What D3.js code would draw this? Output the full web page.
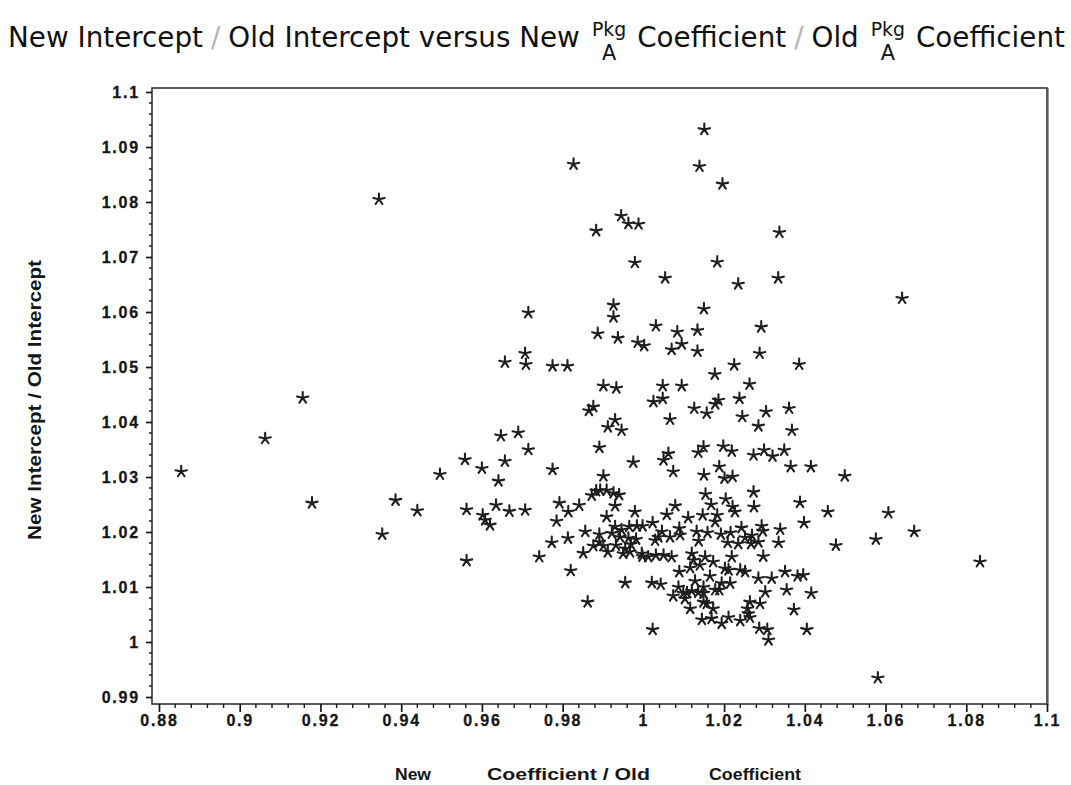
<!DOCTYPE html>
<html>
<head>
<meta charset="utf-8">
<script src="https://cdn.jsdelivr.net/npm/d3@7"></script>
<style>
  html, body { margin: 0; padding: 0; background: #fff; }
  svg { display: block; }
</style>
</head>
<body>
<svg id="chart" width="1071" height="785"></svg>
<script>
// ---------- data ----------
const xTickValues = [0.88, 0.90, 0.92, 0.94, 0.96, 0.98, 1.00, 1.02, 1.04, 1.06, 1.08, 1.10];
const xTickLabels = ["0.88", "0.9", "0.92", "0.94", "0.96", "0.98", "1", "1.02", "1.04", "1.06", "1.08", "1.1"];
const yTickValues = [0.99, 1.00, 1.01, 1.02, 1.03, 1.04, 1.05, 1.06, 1.07, 1.08, 1.09, 1.10];
const yTickLabels = ["0.99", "1", "1.01", "1.02", "1.03", "1.04", "1.05", "1.06", "1.07", "1.08", "1.09", "1.1"];

// New Pkg A Coefficient / Old Pkg A Coefficient
const coefRatio = [
0.9827,0.9345,0.9945,0.9883,0.9715,0.9926,0.9926,0.9887,0.9937,0.9707,
0.9709,0.9657,0.9775,0.9812,0.9901,0.9933,0.9156,1.0151,1.0139,1.0196,
0.9963,0.9988,1.0337,0.9979,1.0183,1.0054,1.0235,1.0334,1.0641,1.0150,
1.0031,1.0084,1.0134,1.0292,0.9986,1.0002,1.0095,1.0070,1.0134,1.0288,
1.0225,1.0386,1.0177,1.0048,1.0095,1.0263,0.9063,0.8855,0.9179,0.9386,
0.9440,0.9496,0.9353,1.0126,1.0157,1.0178,1.0186,1.0238,1.0245,1.0304,
1.0361,1.0285,1.0368,1.0136,1.0149,1.0198,1.0219,1.0273,1.0299,1.0320,
1.0349,1.0188,1.0150,1.0201,1.0221,1.0365,1.0415,1.0499,1.0154,1.0273,
1.0168,1.0204,1.0221,1.0227,1.0274,1.0388,1.0457,1.0607,1.0398,1.0671,
1.0576,1.0477,1.0339,1.0335,1.0834,1.0111,1.0147,1.0183,1.0178,1.0293,
1.0296,1.0132,1.0159,1.0192,1.0216,1.0243,1.0252,1.0269,1.0137,1.0209,
1.0235,1.0267,1.0285,1.0297,1.0219,1.0120,1.0124,1.0140,1.0173,1.0153,
1.0211,1.0240,1.0252,1.0165,1.0285,1.0318,1.0351,1.0382,1.0396,1.0128,
1.0194,1.0215,1.0099,1.0120,1.0149,1.0178,1.0302,1.0355,1.0416,1.0149,
1.0116,1.0173,1.0264,1.0289,1.0373,1.0260,1.0145,1.0169,1.0194,1.0211,
1.0240,1.0264,1.0287,1.0307,1.0310,1.0405,1.0581,1.0116,1.0202,1.0108,
1.0136,1.0149,1.0188,1.0103,1.0157,1.0258,1.0074,1.0087,1.0021,1.0043,
1.0023,1.0025,1.0048,0.9865,0.9876,1.0066,0.9912,0.9930,0.9946,0.9647,
0.9690,0.9715,0.9558,0.9600,0.9657,0.9775,0.9891,0.9975,1.0050,1.0062,
1.0074,0.9641,0.9901,0.9872,0.9893,0.9909,0.9926,0.9940,0.9883,0.9562,
0.9635,0.9668,0.9707,0.9602,0.9608,0.9620,0.9792,0.9814,0.9841,0.9930,
0.9785,0.9909,0.9979,1.0023,1.0079,1.0058,0.9856,0.9891,0.9891,0.9876,
0.9901,0.9930,0.9946,0.9965,0.9984,0.9998,0.9942,0.9963,0.9932,0.9955,
0.9950,0.9967,0.9996,1.0037,1.0046,1.0066,1.0091,1.0089,1.0029,0.9998,
1.0012,1.0031,1.0050,1.0070,0.9851,0.9813,0.9773,0.9742,0.9562,0.9820,
1.0089,0.9955,0.9862,0.9969,0.9922,0.9982,0.9912
];
// New Intercept / Old Intercept
const interceptRatio = [
1.0869,1.0805,1.0775,1.0748,1.0599,1.0613,1.0591,1.0561,1.0553,1.0525,
1.0505,1.0509,1.0502,1.0502,1.0466,1.0462,1.0444,1.0932,1.0865,1.0833,
1.0761,1.0760,1.0745,1.0690,1.0691,1.0662,1.0651,1.0662,1.0625,1.0606,
1.0575,1.0564,1.0567,1.0573,1.0545,1.0539,1.0542,1.0532,1.0529,1.0525,
1.0504,1.0505,1.0487,1.0466,1.0466,1.0469,1.0370,1.0310,1.0253,1.0258,
1.0239,1.0305,1.0196,1.0425,1.0416,1.0433,1.0440,1.0443,1.0410,1.0419,
1.0425,1.0393,1.0385,1.0345,1.0355,1.0356,1.0347,1.0340,1.0349,1.0338,
1.0349,1.0319,1.0304,1.0298,1.0301,1.0319,1.0319,1.0302,1.0269,1.0273,
1.0250,1.0260,1.0246,1.0237,1.0246,1.0254,1.0237,1.0235,1.0217,1.0201,
1.0187,1.0176,1.0205,1.0181,1.0146,1.0226,1.0231,1.0231,1.0219,1.0211,
1.0202,1.0201,1.0199,1.0196,1.0199,1.0208,1.0190,1.0194,1.0184,1.0181,
1.0179,1.0179,1.0182,1.0156,1.0155,1.0161,1.0149,1.0140,1.0146,1.0155,
1.0131,1.0131,1.0128,1.0120,1.0116,1.0116,1.0128,1.0120,1.0122,1.0111,
1.0107,1.0107,1.0089,1.0093,1.0089,1.0095,1.0091,1.0095,1.0089,1.0073,
1.0061,1.0061,1.0073,1.0070,1.0059,1.0052,1.0041,1.0043,1.0034,1.0045,
1.0039,1.0045,1.0025,1.0023,1.0004,1.0023,0.9935,1.0135,1.0134,1.0090,
1.0090,1.0100,1.0095,1.0079,1.0070,1.0061,1.0084,1.0100,1.0108,1.0105,
1.0023,1.0437,1.0443,1.0421,1.0428,1.0405,1.0391,1.0404,1.0385,1.0375,
1.0381,1.0350,1.0332,1.0316,1.0329,1.0314,1.0354,1.0327,1.0331,1.0343,
1.0310,1.0293,1.0302,1.0267,1.0276,1.0276,1.0271,1.0268,1.0275,1.0241,
1.0249,1.0238,1.0240,1.0231,1.0222,1.0213,1.0253,1.0237,1.0249,1.0248,
1.0220,1.0228,1.0237,1.0217,1.0248,1.0232,1.0201,1.0196,1.0182,1.0175,
1.0175,1.0210,1.0204,1.0210,1.0211,1.0211,1.0191,1.0189,1.0176,1.0170,
1.0161,1.0164,1.0161,1.0191,1.0201,1.0191,1.0195,1.0207,1.0185,1.0156,
1.0155,1.0158,1.0158,1.0155,1.0162,1.0189,1.0181,1.0155,1.0148,1.0130,
1.0128,1.0108,1.0073,1.0178,1.0198,1.0187,1.0164
];

// ---------- layout ----------
const svg = d3.select("#chart");
const frame = { left: 152, top: 88, right: 1047, bottom: 704 };

const x = d3.scaleLinear().domain([0.88, 1.10]).range([159, 1047]);
const y = d3.scaleLinear().domain([0.99, 1.10]).range([697, 92]);

const ink = "#161616";
const tickFont = "'Liberation Sans', Arial, sans-serif";

// frame
svg.append("rect")
  .attr("x", frame.left).attr("y", frame.top)
  .attr("width", frame.right - frame.left).attr("height", frame.bottom - frame.top)
  .attr("fill", "none").attr("stroke", "#333").attr("stroke-width", 1.6);
svg.append("line")
  .attr("x1", frame.right + 1).attr("x2", frame.right + 1)
  .attr("y1", frame.top).attr("y2", frame.bottom + 1)
  .attr("stroke", "#555").attr("stroke-width", 1.2);

function styleTickText(sel) {
  sel.attr("fill", ink)
    .attr("font-family", tickFont)
    .attr("font-weight", "bold")
    .attr("font-size", 16)
    .attr("letter-spacing", "1.8px")
    .style("font-family", tickFont)
    .style("font-weight", "bold")
    .style("font-size", "16px")
    .style("letter-spacing", "1.8px")
    .attr("stroke", ink).attr("stroke-width", 0.3);
}

// x axis (ticks below the frame)
const xMinor = d3.range(0.88, 1.1001, 0.004).filter(v => Math.abs(Math.round(v / 0.02) * 0.02 - v) > 1e-6);
const xAxis = d3.axisBottom(x)
  .tickValues(xTickValues)
  .tickFormat((d, i) => xTickLabels[i])
  .tickSize(8).tickPadding(3);
const gx = svg.append("g").attr("transform", `translate(0,${frame.bottom})`).call(xAxis);
gx.attr("font-size", 16).attr("font-family", tickFont);
gx.select(".domain").remove();
gx.selectAll(".tick line").attr("stroke", ink).attr("stroke-width", 1.7);
styleTickText(gx.selectAll(".tick text"));
svg.append("g").selectAll("line").data(xMinor).join("line")
  .attr("x1", d => x(d)).attr("x2", d => x(d))
  .attr("y1", frame.bottom).attr("y2", frame.bottom + 4)
  .attr("stroke", ink).attr("stroke-width", 1.4);

// y axis (ticks left of the frame)
const yMinor = d3.range(0.99, 1.1001, 0.002).filter(v => Math.abs(Math.round(v / 0.01) * 0.01 - v) > 1e-6);
const yAxis = d3.axisLeft(y)
  .tickValues(yTickValues)
  .tickFormat((d, i) => yTickLabels[i])
  .tickSize(6).tickPadding(6);
const gy = svg.append("g").attr("transform", `translate(${frame.left},0)`).call(yAxis);
gy.attr("font-size", 16).attr("font-family", tickFont);
gy.select(".domain").remove();
gy.selectAll(".tick line").attr("stroke", ink).attr("stroke-width", 1.7);
styleTickText(gy.selectAll(".tick text"));
svg.append("g").selectAll("line").data(yMinor).join("line")
  .attr("x1", frame.left - 3).attr("x2", frame.left)
  .attr("y1", d => y(d)).attr("y2", d => y(d))
  .attr("stroke", ink).attr("stroke-width", 1.4);

// points: SAS-style star markers
const points = coefRatio.map((c, i) => ({ c, r: interceptRatio[i] }));
const arm = 5.8;
const angles = [-90, -12, 192, 55, 125];
const starPath = angles.map(a => {
  const t = a * Math.PI / 180;
  return `M0,0L${(arm * Math.cos(t)).toFixed(2)},${(arm * Math.sin(t)).toFixed(2)}`;
}).join("");
svg.append("g").selectAll("path").data(points).join("path")
  .attr("transform", d => `translate(${x(d.c)},${y(d.r)})`)
  .attr("d", starPath)
  .attr("fill", "none").attr("stroke", "#1e1e1e")
  .attr("stroke-width", 2.1).attr("stroke-linecap", "round");

// axis titles
const labelFont = "'Liberation Sans', Arial, sans-serif";
svg.append("text")
  .attr("transform", "translate(41,400) rotate(-90)")
  .attr("text-anchor", "middle")
  .attr("textLength", 280).attr("lengthAdjust", "spacingAndGlyphs")
  .style("font-family", labelFont).style("font-weight", "bold").style("font-size", "18px")
  .attr("fill", ink)
  .text("New Intercept / Old Intercept");

const xl = svg.append("g")
  .style("font-family", labelFont).style("font-weight", "bold").style("font-size", "17px")
  .attr("fill", ink);
xl.append("text").attr("x", 395).attr("y", 780).attr("textLength", 36).attr("lengthAdjust", "spacingAndGlyphs").text("New");
xl.append("text").attr("x", 487).attr("y", 780).attr("textLength", 163).attr("lengthAdjust", "spacingAndGlyphs").text("Coefficient / Old");
xl.append("text").attr("x", 709).attr("y", 780).attr("textLength", 92).attr("lengthAdjust", "spacingAndGlyphs").text("Coefficient");

// chart title with stacked "Pkg / A"
const tFont = "'DejaVu Sans', sans-serif";
const tg = svg.append("g");
const inner = tg.append("g");
let cursor = 0;
const baseline = 47;
function word(str, opts = {}) {
  const t = inner.append("text")
    .attr("x", cursor).attr("y", baseline)
    .style("font-family", tFont).style("font-size", (opts.size || 28) + "px")
    .attr("fill", opts.color || "#111")
    .text(str);
  cursor += t.node().getComputedTextLength() + (opts.gap == null ? 9 : opts.gap);
}
function stack(top, bottom) {
  const a = inner.append("text").attr("y", 36)
    .style("font-family", tFont).style("font-size", "19px").attr("fill", "#111").text(top);
  const b = inner.append("text").attr("y", 60)
    .style("font-family", tFont).style("font-size", "21px").attr("fill", "#111").text(bottom);
  const wa = a.node().getComputedTextLength(), wb = b.node().getComputedTextLength();
  const w = Math.max(wa, wb);
  a.attr("x", cursor + (w - wa) / 2);
  b.attr("x", cursor + (w - wb) / 2);
  cursor += w + 11;
}
word("New Intercept", { gap: 8 });
word("/", { color: "#b5b5b5", gap: 8 });
word("Old Intercept versus New", { gap: 12 });
stack("Pkg", "A");
word("Coefficient", { gap: 8 });
word("/", { color: "#b5b5b5", gap: 8 });
word("Old", { gap: 12 });
stack("Pkg", "A");
word("Coefficient", { gap: 0 });
const naturalW = cursor;
inner.attr("transform", `translate(8,0) scale(${1057 / naturalW},1)`);
</script>
</body>
</html>
